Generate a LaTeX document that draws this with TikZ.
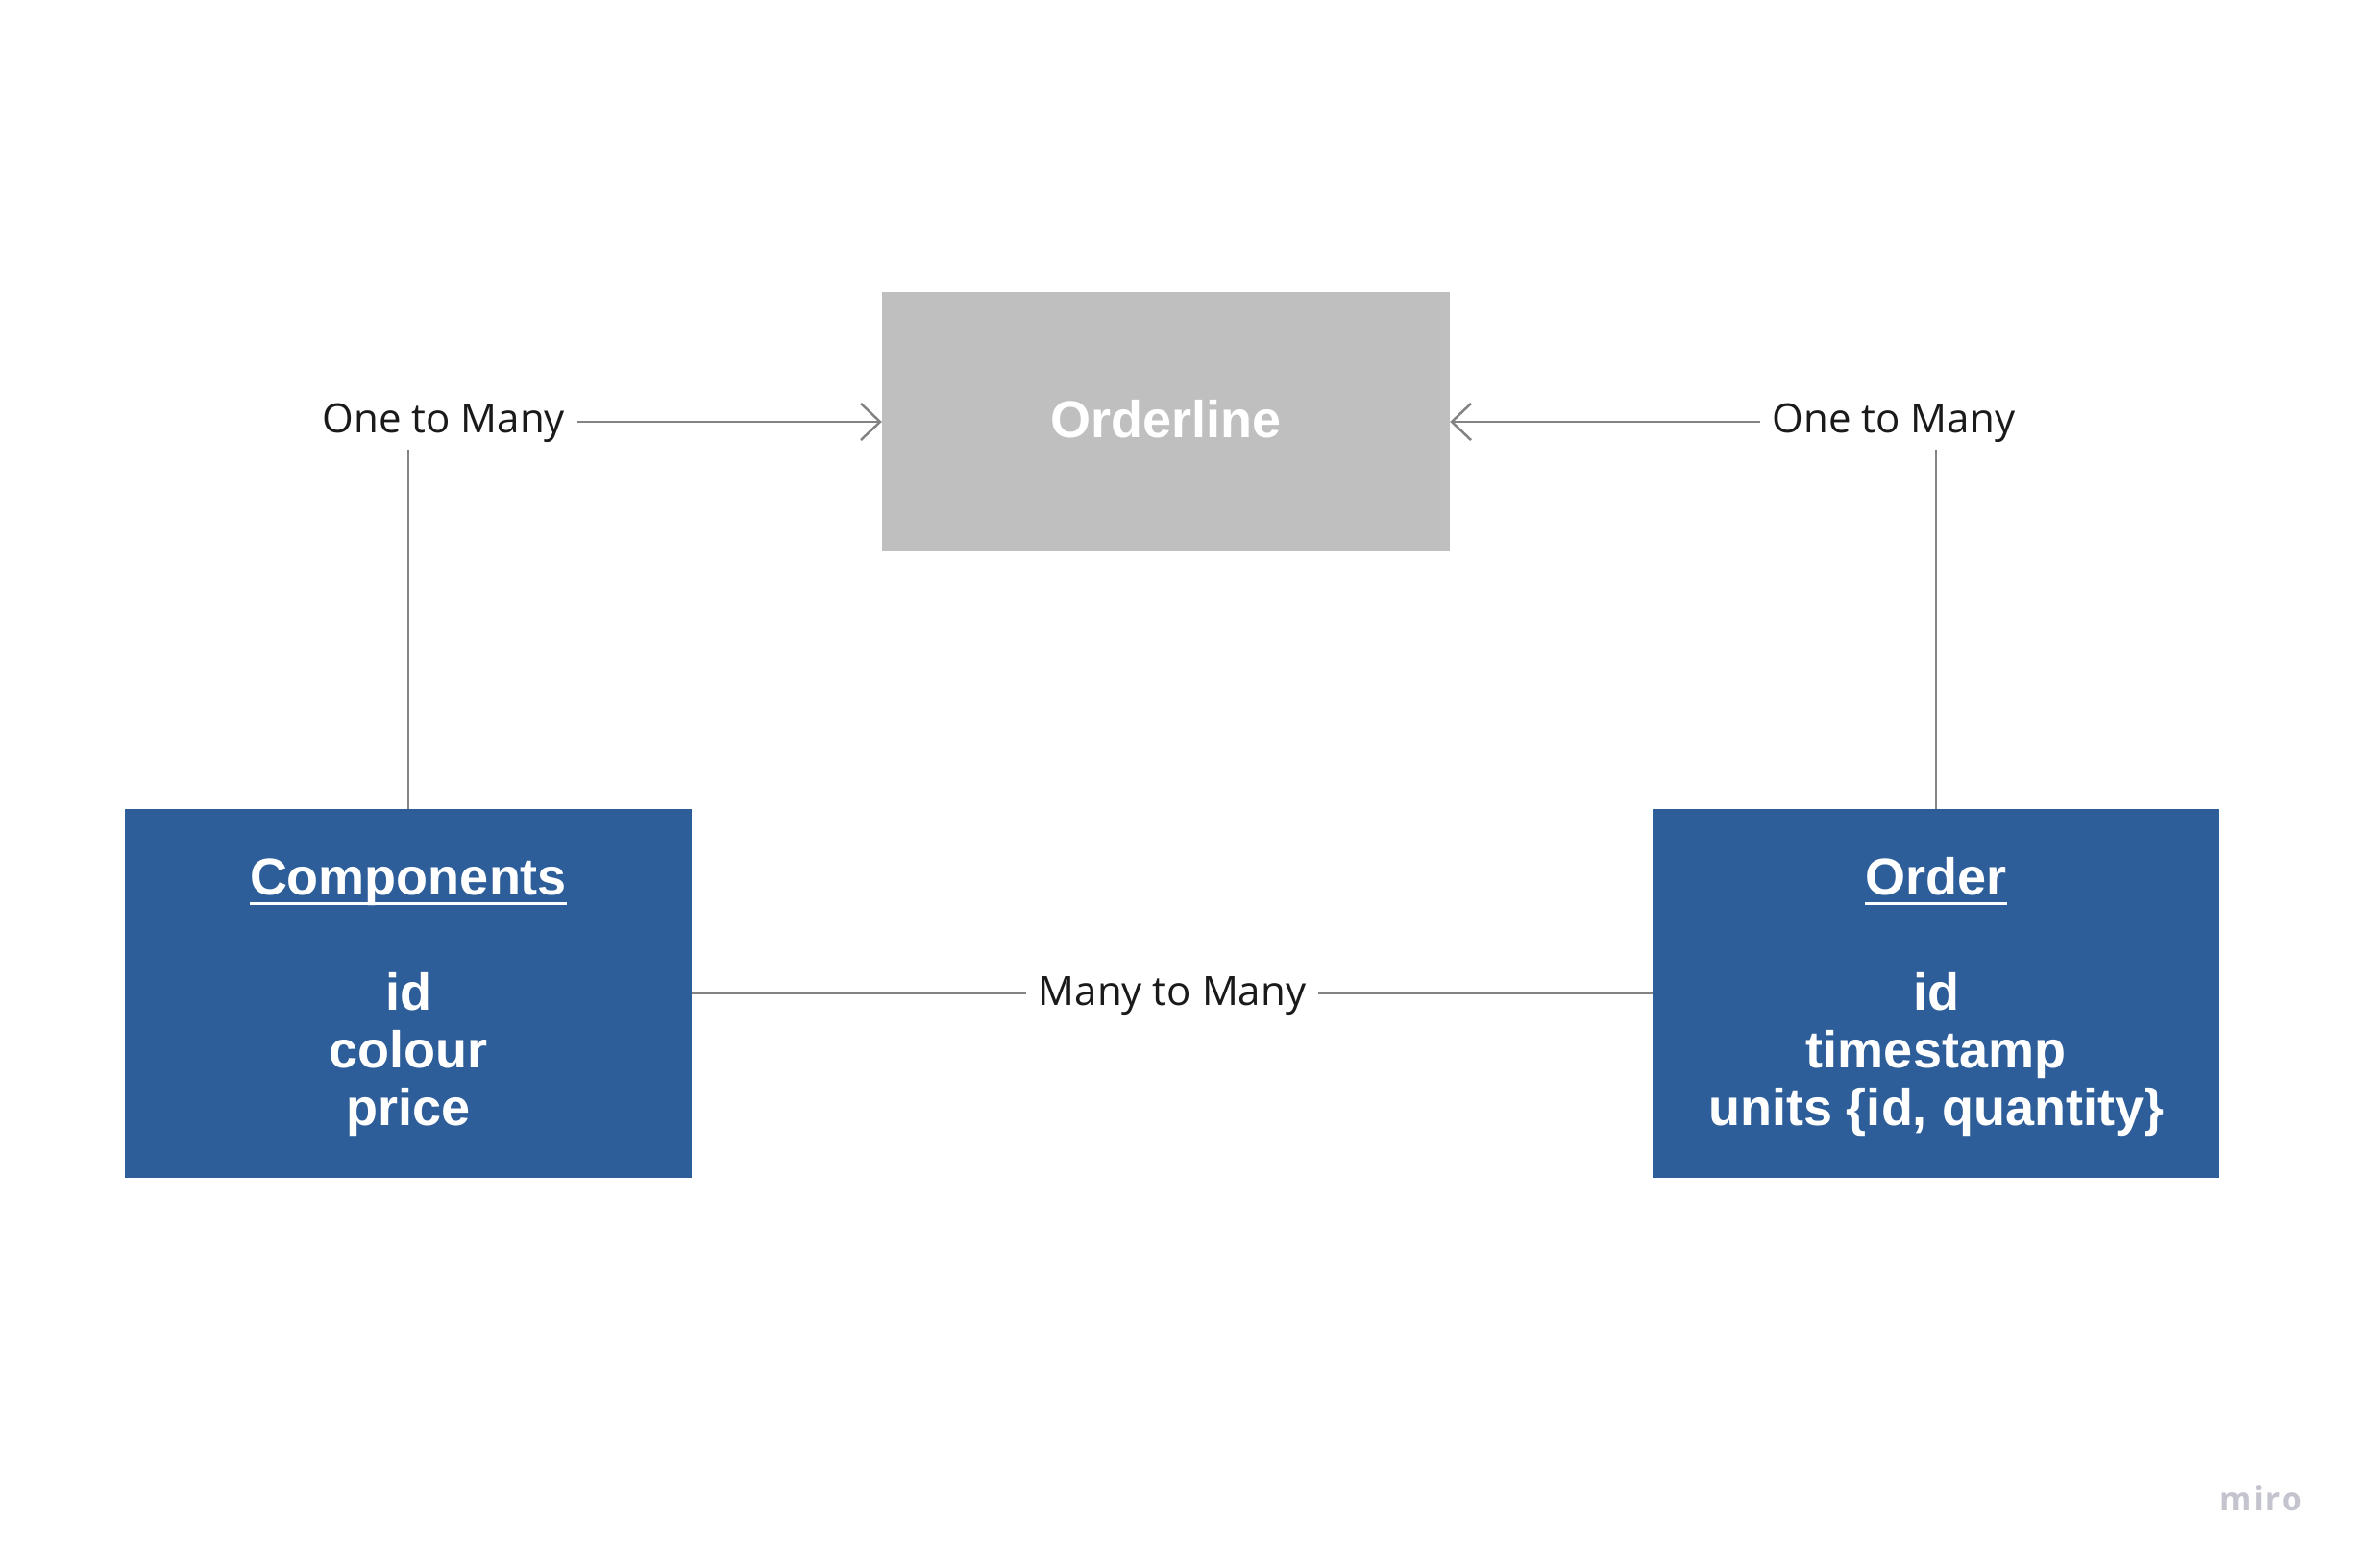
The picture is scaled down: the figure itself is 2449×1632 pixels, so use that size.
\documentclass[tikz,border=0pt]{standalone}
\usepackage{fontspec}
\setmainfont{Open Sans}
\newfontfamily\boxfont{Liberation Sans}
\usetikzlibrary{arrows.meta}
\definecolor{entblue}{HTML}{2D5E99}
\definecolor{entgray}{HTML}{BEBFBE}
\definecolor{linegray}{HTML}{838383}
\definecolor{lbltext}{HTML}{1A1A1A}
\definecolor{logogray}{HTML}{C4C4CF}
\newcommand\hdul[1]{\setbox0=\hbox{#1}\rlap{\rule[-10.5pt]{\wd0}{2.5pt}}\rule{0pt}{45.5pt}\box0}
\begin{document}
\begin{tikzpicture}[x=1pt,y=-1pt,
  entity/.style={fill=entblue, text=white, minimum width=590pt, minimum height=384pt,
    inner sep=0pt, align=center, font=\boxfont\bfseries\fontsize{54}{60}\selectfont},
  lbl/.style={fill=white, text=lbltext, inner xsep=13pt, inner ysep=7pt,
    font=\fontsize{42}{50}\selectfont},
  conn/.style={draw=linegray, line width=2.5pt},
  barb/.style={-{Straight Barb[length=20pt,width=38pt]}}]
\fill[white] (0,0) rectangle (2449,1632);
\useasboundingbox (0,0) rectangle (2449,1632);

\node[entity, fill=entgray, minimum width=591pt, minimum height=270pt, text depth=6pt] (ol) at (1213.5,439) {Orderline};
\node[entity] (comp) at (425,1034) {\hdul{Components}\\[60pt] id\\ colour\\ price};
\node[entity] (ord) at (2015,1034) {\hdul{Order}\\[60pt] id\\ timestamp\\ units \{id, quantity\}};

\node[lbl, text height=33pt] (l1) at (462,439) {One to Many};
\node[lbl, text height=33pt] (l2) at (1971,439) {One to Many};
\node[lbl, text height=36pt] (m) at (1220,1034) {Many to Many};

\draw[conn] (comp.north) -- (comp.north |- l1.south);
\draw[conn,barb] (l1.east) -- (ol.west);
\draw[conn] (ord.north) -- (ord.north |- l2.south);
\draw[conn,barb] (l2.west) -- (ol.east);
\draw[conn] (comp.east) -- (m.west);
\draw[conn] (m.east) -- (ord.west);

\node[text=logogray, font=\fontsize{34}{40}\selectfont\bfseries\addfontfeatures{LetterSpace=6}] (logo) at (2353,1560) {miro};
\end{tikzpicture}
\end{document}
